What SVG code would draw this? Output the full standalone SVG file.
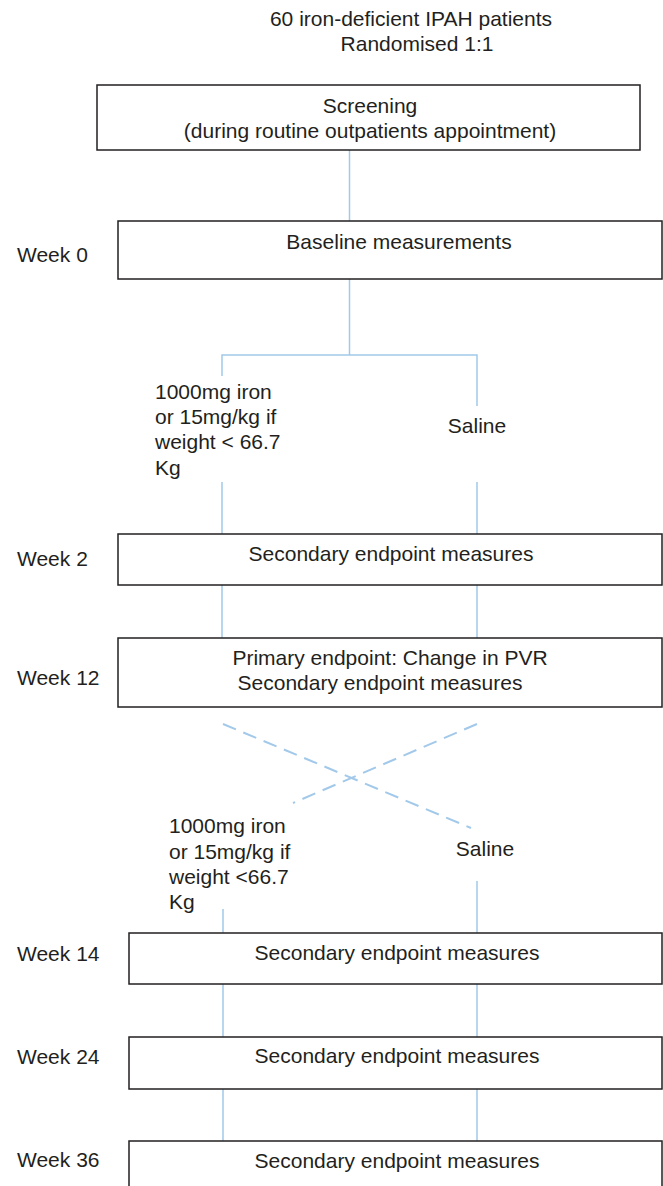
<svg xmlns="http://www.w3.org/2000/svg" width="663" height="1186" viewBox="0 0 663 1186">
<style>
text{font-family:"Liberation Sans",Arial,sans-serif;font-size:21px;fill:#231f20}
.c{text-anchor:middle}
.box{fill:#fff;stroke:#231f20;stroke-width:1.5}
.ln{stroke:#a2c9ea;stroke-width:1.5;fill:none}
.dl{stroke:#a2c9ea;stroke-width:2;fill:none;stroke-dasharray:14 8}
</style>
<rect width="663" height="1186" fill="#fff"/>
<g id="title">
<text class="c" x="411" y="26">60 iron-deficient IPAH patients</text>
<text class="c" x="417" y="51">Randomised 1:1</text>
</g>
<g id="connectors">
<line class="ln" x1="349.5" y1="150" x2="349.5" y2="221"/>
<line class="ln" x1="349.5" y1="279" x2="349.5" y2="355"/>
<polyline class="ln" points="222,376 222,355 477,355 477,406"/>
<line class="ln" x1="222" y1="482" x2="222" y2="534"/>
<line class="ln" x1="477" y1="482" x2="477" y2="534"/>
<line class="ln" x1="222" y1="585" x2="222" y2="638"/>
<line class="ln" x1="477" y1="585" x2="477" y2="638"/>
<line class="dl" x1="223" y1="724" x2="471" y2="828"/>
<line class="dl" x1="477" y1="724" x2="293" y2="803"/>
<line class="ln" x1="223" y1="909" x2="223" y2="933"/>
<line class="ln" x1="477" y1="881" x2="477" y2="933"/>
<line class="ln" x1="223" y1="984" x2="223" y2="1037"/>
<line class="ln" x1="477" y1="984" x2="477" y2="1037"/>
<line class="ln" x1="223" y1="1089" x2="223" y2="1141"/>
<line class="ln" x1="477" y1="1089" x2="477" y2="1141"/>
</g>
<g id="screening">
<rect class="box" x="97" y="85" width="543" height="65"/>
<text class="c" x="370" y="113">Screening</text>
<text class="c" x="370" y="138">(during routine outpatients appointment)</text>
</g>
<g id="baseline">
<rect class="box" x="118" y="221" width="544" height="58"/>
<text class="c" x="399" y="249">Baseline measurements</text>
</g>
<g id="week0"><text x="17" y="262">Week 0</text></g>
<g id="iron1">
<text x="155" y="399">1000mg iron</text>
<text x="155" y="424">or 15mg/kg if</text>
<text x="155" y="449">weight &lt; 66.7</text>
<text x="155" y="475">Kg</text>
</g>
<g id="saline1"><text class="c" x="477" y="433">Saline</text></g>
<g id="week2box">
<rect class="box" x="118" y="534" width="544" height="51"/>
<text class="c" x="391" y="561">Secondary endpoint measures</text>
</g>
<g id="week2"><text x="17" y="566">Week 2</text></g>
<g id="week12box">
<rect class="box" x="118" y="638" width="544" height="69"/>
<text class="c" x="390" y="665">Primary endpoint: Change in PVR</text>
<text class="c" x="380" y="690">Secondary endpoint measures</text>
</g>
<g id="week12"><text x="17" y="685">Week 12</text></g>
<g id="iron2">
<text x="169" y="833">1000mg iron</text>
<text x="169" y="859">or 15mg/kg if</text>
<text x="169" y="884">weight &lt;66.7</text>
<text x="169" y="909">Kg</text>
</g>
<g id="saline2"><text class="c" x="485" y="856">Saline</text></g>
<g id="week14box">
<rect class="box" x="129" y="933" width="533" height="51"/>
<text class="c" x="397" y="960">Secondary endpoint measures</text>
</g>
<g id="week14"><text x="17" y="961">Week 14</text></g>
<g id="week24box">
<rect class="box" x="129" y="1037" width="533" height="52"/>
<text class="c" x="397" y="1063">Secondary endpoint measures</text>
</g>
<g id="week24"><text x="17" y="1064">Week 24</text></g>
<g id="week36box">
<rect class="box" x="129" y="1141" width="533" height="60"/>
<text class="c" x="397" y="1168">Secondary endpoint measures</text>
</g>
<g id="week36"><text x="17" y="1167">Week 36</text></g>
</svg>
